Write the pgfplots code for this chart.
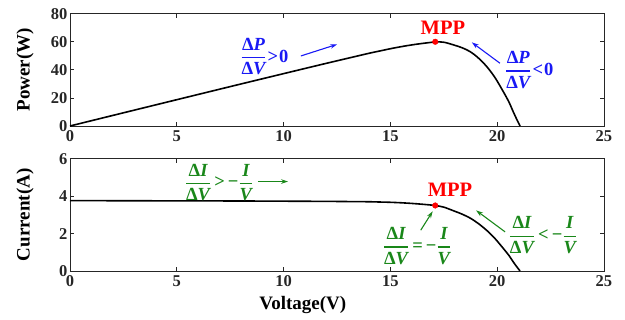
\documentclass[border=0pt]{standalone}
\usepackage{fontspec}
\setmainfont{Liberation Serif}
\usepackage{amsmath}
\usepackage{pgfplots}
\pgfplotsset{compat=1.18}
\usetikzlibrary{arrows.meta}
\definecolor{annblue}{RGB}{25,25,245}
\definecolor{anngreen}{RGB}{25,135,25}
\definecolor{axgray}{RGB}{38,38,38}
\newcommand{\fr}[2]{\genfrac{}{}{1.4pt}{0}{\text{#1}}{\text{#2}}}

\pgfplotstableread{
V I P
0 3.76 0
2 3.755 7.51
4 3.75 15.0
6 3.745 22.47
8 3.74 29.92
10 3.73 37.3
11 3.725 40.98
12 3.72 44.64
13 3.71 48.23
14 3.70 51.8
14.5 3.685 53.43
15 3.67 55.05
15.5 3.645 56.5
16 3.61 57.76
16.5 3.565 58.82
17.1 3.50 59.85
17.5 3.41 59.68
17.95 3.22 57.8
18.35 3.04 55.78
18.73 2.83 53.0
19.1 2.55 48.7
19.51 2.17 42.34
19.9 1.73 34.43
20.29 1.20 24.35
20.55 0.83 17.06
20.75 0.49 10.17
20.92 0.22 4.6
21.07 0 0
}\pvdata

\pgfplotsset{
  pvaxis/.style={
    scale only axis, width=534pt, height=112.3pt,
    xmin=0, xmax=25, xtick={0,5,10,15,20,25},
    tick align=inside, xtick pos=both, ytick pos=both,
    major tick length=4pt,
    axis line style={axgray, line width=0.8pt},
    every tick/.style={axgray, line width=0.8pt},
    tick label style={font=\fontsize{16.5}{18}\selectfont\bfseries, text=axgray},
    /pgf/number format/assume math mode=true,
    xticklabel style={yshift=-1pt},
    yticklabel style={xshift=1pt},
    ylabel style={font=\fontsize{19}{21}\selectfont\bfseries, at={(axis description cs:-0.0843,0.5)}, anchor=center},
    xlabel style={font=\fontsize{19}{21}\selectfont\bfseries, at={(axis description cs:0.436,-0.303)}, anchor=center},
    clip=false,
  },
}
\tikzset{
  ann/.style={font=\fontsize{18.5}{21}\selectfont\bfseries, inner sep=0pt},
  annarrow/.style={line width=1.1pt, -{Stealth[length=7pt,width=4.5pt]}},
}

\begin{document}
\begin{tikzpicture}
\useasboundingbox (0,0) rectangle (625pt,320pt);
% Top: P-V
\begin{axis}[pvaxis, at={(70pt,194pt)}, anchor=south west,
  ymin=0, ymax=80, ytick={0,20,40,60,80}, ylabel={Power(W)}]
\addplot[black, line width=1.6pt, smooth] table[x=V, y=P] {\pvdata};
\addplot[only marks, mark=*, mark size=2.8pt, red] coordinates {(17.1,60)};
\node[red, font=\fontsize{20.5}{22}\selectfont\bfseries] at (axis cs:17.46,70.0) {MPP};
\node[ann, annblue] at (axis cs:9.1,49.4)
  {$\fr{Δ\itshape P}{Δ\itshape V}$\kern1pt>\kern1pt0};
\draw[annblue, annarrow] (axis cs:10.81,49.9) -- (axis cs:12.51,58.2);
\node[ann, annblue] at (axis cs:21.5,39.9)
  {$\fr{Δ\itshape P}{Δ\itshape V}$\kern1pt<\kern1pt0};
\draw[annblue, annarrow] (axis cs:20.13,44.7) -- (axis cs:18.81,59.6);
\end{axis}
% Bottom: I-V
\begin{axis}[pvaxis, at={(70pt,49pt)}, anchor=south west,
  ymin=0, ymax=6, ytick={0,2,4,6}, ylabel={Current(A)}, xlabel={Voltage(V)}]
\addplot[black, line width=1.6pt, smooth] table[x=V, y=I] {\pvdata};
\addplot[only marks, mark=*, mark size=2.8pt, red] coordinates {(17.1,3.5)};
\node[red, font=\fontsize{20.5}{22}\selectfont\bfseries] at (axis cs:17.79,4.34) {MPP};
\node[ann, anngreen] at (axis cs:6.98,4.74)
  {$\fr{Δ\itshape I}{Δ\itshape V}$\,>\,−$\fr{\itshape I}{\itshape V}$};
\draw[anngreen, annarrow] (axis cs:8.80,4.78) -- (axis cs:10.21,4.78);
\node[ann, anngreen] at (axis cs:16.25,1.34)
  {$\fr{Δ\itshape I}{Δ\itshape V}$\,=\,−$\fr{\itshape I}{\itshape V}$};
\draw[anngreen, annarrow] (axis cs:16.42,2.18) -- (axis cs:16.98,3.19);
\node[ann, anngreen] at (axis cs:22.14,1.91)
  {$\fr{Δ\itshape I}{Δ\itshape V}$\,<\,−$\fr{\itshape I}{\itshape V}$};
\draw[anngreen, annarrow] (axis cs:20.37,2.09) -- (axis cs:19.01,3.24);
\end{axis}
\end{tikzpicture}
\end{document}
